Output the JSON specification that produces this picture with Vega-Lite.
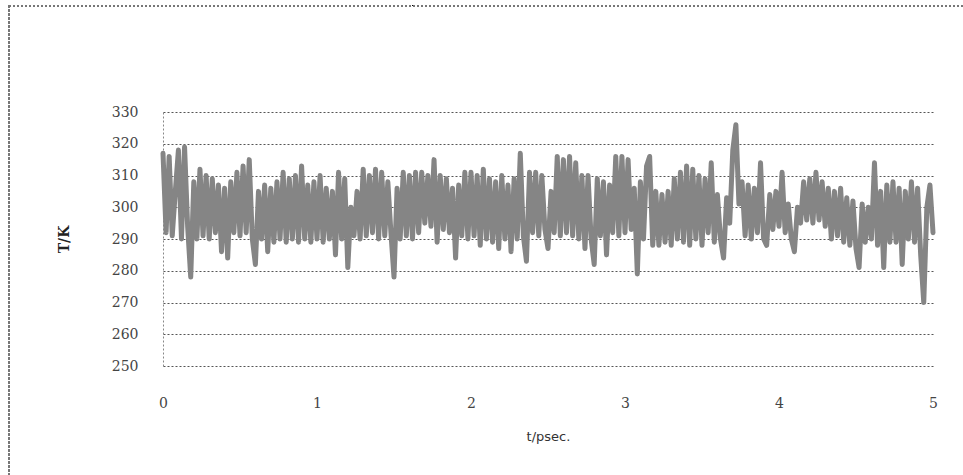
{
  "$schema": "https://vega.github.io/schema/vega-lite/v6.json",
  "width": 770,
  "height": 254,
  "autosize": {"type": "none"},
  "padding": {"left": 163, "top": 112, "right": 30, "bottom": 109},
  "background": "white",
  "config": {
    "view": {"stroke": null},
    "axis": {"labelFont": "DejaVu Serif", "titleFont": "DejaVu Sans"}
  },
  "data": {"values": [
    {"t":0.00,"T":317},{"t":0.02,"T":292},{"t":0.04,"T":316},{"t":0.06,"T":291},{"t":0.08,"T":305},
    {"t":0.10,"T":318},{"t":0.12,"T":290},{"t":0.14,"T":319},{"t":0.16,"T":294},{"t":0.18,"T":278},
    {"t":0.20,"T":308},{"t":0.22,"T":290},{"t":0.24,"T":312},{"t":0.26,"T":291},{"t":0.28,"T":310},
    {"t":0.30,"T":290},{"t":0.32,"T":309},{"t":0.34,"T":292},{"t":0.36,"T":307},{"t":0.38,"T":286},
    {"t":0.40,"T":306},{"t":0.42,"T":284},{"t":0.44,"T":308},{"t":0.46,"T":292},{"t":0.48,"T":311},
    {"t":0.50,"T":291},{"t":0.52,"T":313},{"t":0.54,"T":292},{"t":0.56,"T":315},{"t":0.58,"T":290},
    {"t":0.60,"T":282},{"t":0.62,"T":305},{"t":0.64,"T":290},{"t":0.66,"T":307},{"t":0.68,"T":286},
    {"t":0.70,"T":306},{"t":0.72,"T":289},{"t":0.74,"T":308},{"t":0.76,"T":290},{"t":0.78,"T":311},
    {"t":0.80,"T":289},{"t":0.82,"T":309},{"t":0.84,"T":290},{"t":0.86,"T":310},{"t":0.88,"T":289},
    {"t":0.90,"T":313},{"t":0.92,"T":290},{"t":0.94,"T":307},{"t":0.96,"T":289},{"t":0.98,"T":308},
    {"t":1.00,"T":290},{"t":1.02,"T":310},{"t":1.04,"T":289},{"t":1.06,"T":306},{"t":1.08,"T":290},
    {"t":1.10,"T":305},{"t":1.12,"T":285},{"t":1.14,"T":311},{"t":1.16,"T":290},{"t":1.18,"T":309},
    {"t":1.20,"T":281},{"t":1.22,"T":300},{"t":1.24,"T":291},{"t":1.26,"T":305},{"t":1.28,"T":290},
    {"t":1.30,"T":312},{"t":1.32,"T":291},{"t":1.34,"T":310},{"t":1.36,"T":292},{"t":1.38,"T":312},
    {"t":1.40,"T":290},{"t":1.42,"T":311},{"t":1.44,"T":291},{"t":1.46,"T":308},{"t":1.48,"T":292},
    {"t":1.50,"T":278},{"t":1.52,"T":306},{"t":1.54,"T":290},{"t":1.56,"T":311},{"t":1.58,"T":291},
    {"t":1.60,"T":310},{"t":1.62,"T":290},{"t":1.64,"T":311},{"t":1.66,"T":292},{"t":1.68,"T":311},
    {"t":1.70,"T":295},{"t":1.72,"T":310},{"t":1.74,"T":294},{"t":1.76,"T":315},{"t":1.78,"T":289},
    {"t":1.80,"T":310},{"t":1.82,"T":293},{"t":1.84,"T":309},{"t":1.86,"T":292},{"t":1.88,"T":306},
    {"t":1.90,"T":284},{"t":1.92,"T":307},{"t":1.94,"T":291},{"t":1.96,"T":311},{"t":1.98,"T":290},
    {"t":2.00,"T":311},{"t":2.02,"T":291},{"t":2.04,"T":310},{"t":2.06,"T":288},{"t":2.08,"T":312},
    {"t":2.10,"T":290},{"t":2.12,"T":309},{"t":2.14,"T":289},{"t":2.16,"T":308},{"t":2.18,"T":287},
    {"t":2.20,"T":310},{"t":2.22,"T":290},{"t":2.24,"T":307},{"t":2.26,"T":286},{"t":2.28,"T":309},
    {"t":2.30,"T":290},{"t":2.32,"T":317},{"t":2.34,"T":291},{"t":2.36,"T":283},{"t":2.38,"T":311},
    {"t":2.40,"T":292},{"t":2.42,"T":311},{"t":2.44,"T":291},{"t":2.46,"T":310},{"t":2.48,"T":293},
    {"t":2.50,"T":287},{"t":2.52,"T":305},{"t":2.54,"T":292},{"t":2.56,"T":316},{"t":2.58,"T":291},
    {"t":2.60,"T":315},{"t":2.62,"T":292},{"t":2.64,"T":316},{"t":2.66,"T":291},{"t":2.68,"T":314},
    {"t":2.70,"T":290},{"t":2.72,"T":310},{"t":2.74,"T":287},{"t":2.76,"T":310},{"t":2.78,"T":290},
    {"t":2.80,"T":282},{"t":2.82,"T":309},{"t":2.84,"T":291},{"t":2.86,"T":308},{"t":2.88,"T":285},
    {"t":2.90,"T":307},{"t":2.92,"T":292},{"t":2.94,"T":316},{"t":2.96,"T":291},{"t":2.98,"T":316},
    {"t":3.00,"T":292},{"t":3.02,"T":315},{"t":3.04,"T":293},{"t":3.06,"T":306},{"t":3.08,"T":279},
    {"t":3.10,"T":308},{"t":3.12,"T":290},{"t":3.14,"T":313},{"t":3.16,"T":316},{"t":3.18,"T":288},
    {"t":3.20,"T":305},{"t":3.22,"T":288},{"t":3.24,"T":304},{"t":3.26,"T":289},{"t":3.28,"T":305},
    {"t":3.30,"T":288},{"t":3.32,"T":309},{"t":3.34,"T":290},{"t":3.36,"T":311},{"t":3.38,"T":289},
    {"t":3.40,"T":313},{"t":3.42,"T":288},{"t":3.44,"T":312},{"t":3.46,"T":290},{"t":3.48,"T":310},
    {"t":3.50,"T":288},{"t":3.52,"T":309},{"t":3.54,"T":292},{"t":3.56,"T":314},{"t":3.58,"T":289},
    {"t":3.60,"T":304},{"t":3.62,"T":290},{"t":3.64,"T":284},{"t":3.66,"T":303},{"t":3.68,"T":295},
    {"t":3.70,"T":318},{"t":3.72,"T":326},{"t":3.74,"T":301},{"t":3.76,"T":308},{"t":3.78,"T":291},
    {"t":3.80,"T":307},{"t":3.82,"T":290},{"t":3.84,"T":306},{"t":3.86,"T":292},{"t":3.88,"T":314},
    {"t":3.90,"T":290},{"t":3.92,"T":288},{"t":3.94,"T":304},{"t":3.96,"T":293},{"t":3.98,"T":305},
    {"t":4.00,"T":294},{"t":4.02,"T":311},{"t":4.04,"T":292},{"t":4.06,"T":301},{"t":4.08,"T":290},
    {"t":4.10,"T":286},{"t":4.12,"T":300},{"t":4.14,"T":295},{"t":4.16,"T":308},{"t":4.18,"T":296},
    {"t":4.20,"T":309},{"t":4.22,"T":295},{"t":4.24,"T":311},{"t":4.26,"T":296},{"t":4.28,"T":308},
    {"t":4.30,"T":294},{"t":4.32,"T":306},{"t":4.34,"T":290},{"t":4.36,"T":305},{"t":4.38,"T":291},
    {"t":4.40,"T":306},{"t":4.42,"T":289},{"t":4.44,"T":303},{"t":4.46,"T":288},{"t":4.48,"T":302},
    {"t":4.50,"T":287},{"t":4.52,"T":281},{"t":4.54,"T":301},{"t":4.56,"T":289},{"t":4.58,"T":300},
    {"t":4.60,"T":290},{"t":4.62,"T":314},{"t":4.64,"T":288},{"t":4.66,"T":305},{"t":4.68,"T":281},
    {"t":4.70,"T":307},{"t":4.72,"T":289},{"t":4.74,"T":308},{"t":4.76,"T":289},{"t":4.78,"T":306},
    {"t":4.80,"T":282},{"t":4.82,"T":305},{"t":4.84,"T":290},{"t":4.86,"T":308},{"t":4.88,"T":289},
    {"t":4.90,"T":306},{"t":4.92,"T":285},{"t":4.94,"T":270},{"t":4.96,"T":300},{"t":4.98,"T":307},
    {"t":5.00,"T":292}
  ]},
  "layer": [
    {
      "mark": {"type": "line", "color": "#858585", "strokeWidth": 5, "strokeJoin": "round", "strokeCap": "round", "clip": false},
      "encoding": {
        "x": {
          "field": "t", "type": "quantitative",
          "scale": {"domain": [0, 5], "nice": false, "zero": false},
          "axis": {
            "title": "t/psec.", "values": [0, 1, 2, 3, 4, 5], "format": "d", "grid": false, "ticks": false, "domain": false,
            "labelOverlap": false, "labelFlush": false,
            "labelPadding": 30, "labelFontSize": 14, "labelColor": "#444444",
            "titlePadding": 20, "titleFontSize": 13, "titleFontWeight": "normal", "titleColor": "#333333"
          }
        },
        "y": {
          "field": "T", "type": "quantitative",
          "scale": {"domain": [250, 330], "nice": false, "zero": false},
          "axis": {
            "title": "T/K", "values": [250, 260, 270, 280, 290, 300, 310, 320, 330], "format": "d",
            "tickCount": 9, "labelOverlap": false, "labelFlush": false,
            "grid": true, "gridColor": "#555555", "gridDash": [2, 2], "gridWidth": 1,
            "ticks": false, "domain": true, "domainColor": "#888888", "domainDash": [2, 2], "domainWidth": 1,
            "labelPadding": 25, "labelFontSize": 14, "labelColor": "#444444",
            "titleFont": "DejaVu Serif", "titleFontSize": 14, "titleFontWeight": "bold", "titleColor": "#222222",
            "titlePadding": 40
          }
        }
      }
    },
    {
      "mark": {"type": "rect", "fill": null, "stroke": "#777777", "strokeWidth": 1.5, "strokeDash": [2, 2], "clip": false},
      "encoding": {
        "x": {
          "datum": -1.0, "type": "quantitative",
          "scale": {"domain": [0, 5], "nice": false, "zero": false},
          "axis": {
            "title": "t/psec.", "values": [0, 1, 2, 3, 4, 5], "format": "d", "grid": false, "ticks": false, "domain": false,
            "labelOverlap": false, "labelFlush": false,
            "labelPadding": 30, "labelFontSize": 14, "labelColor": "#444444",
            "titlePadding": 20, "titleFontSize": 13, "titleFontWeight": "normal", "titleColor": "#333333"
          }
        },
        "x2": {"datum": 5.4},
        "y": {
          "datum": 363.5, "type": "quantitative",
          "scale": {"domain": [250, 330], "nice": false, "zero": false},
          "axis": {
            "title": "T/K", "values": [250, 260, 270, 280, 290, 300, 310, 320, 330], "format": "d",
            "tickCount": 9, "labelOverlap": false, "labelFlush": false,
            "grid": true, "gridColor": "#555555", "gridDash": [2, 2], "gridWidth": 1,
            "ticks": false, "domain": true, "domainColor": "#888888", "domainDash": [2, 2], "domainWidth": 1,
            "labelPadding": 25, "labelFontSize": 14, "labelColor": "#444444",
            "titleFont": "DejaVu Serif", "titleFontSize": 14, "titleFontWeight": "bold", "titleColor": "#222222",
            "titlePadding": 40
          }
        },
        "y2": {"datum": 210}
      }
    }
  ]
}
